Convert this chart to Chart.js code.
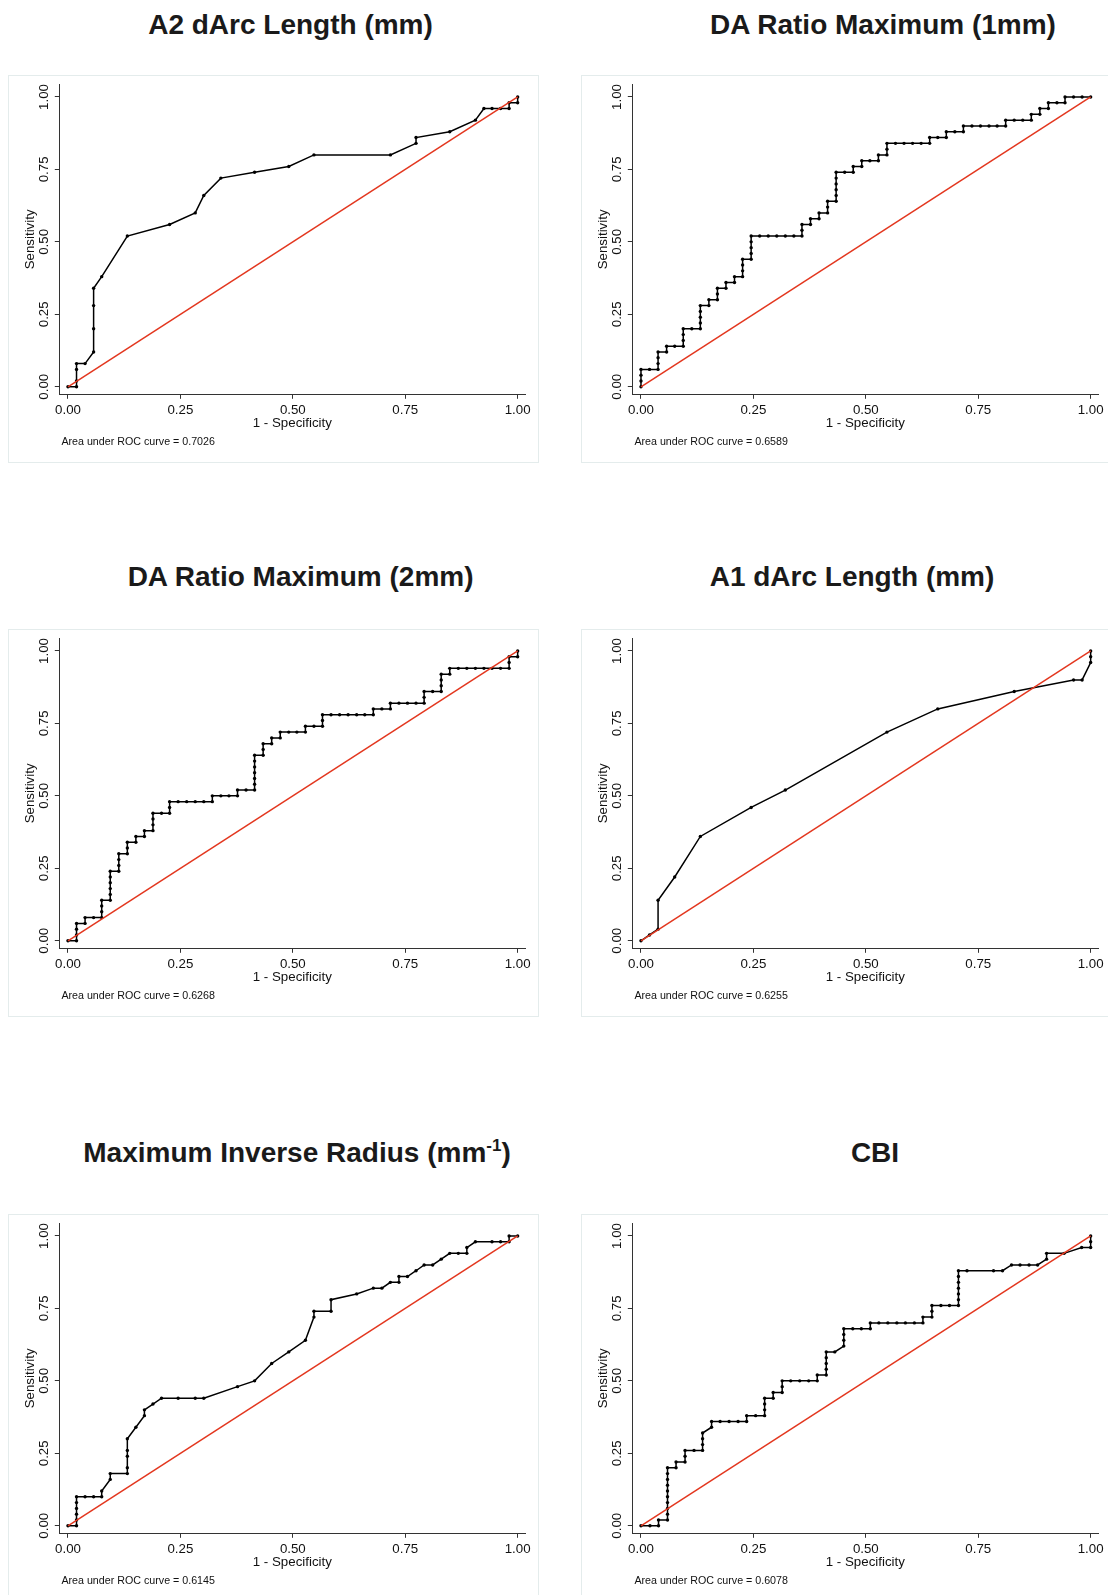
<!DOCTYPE html>
<html>
<head>
<meta charset="utf-8">
<script src="https://cdn.jsdelivr.net/npm/chart.js@4.4.1/dist/chart.umd.min.js"></script>
<style>
  body { margin: 0; background: #fff; width: 1108px; height: 1595px; overflow: hidden; position: relative;
         font-family: "Liberation Sans", Arial, Helvetica, sans-serif; }
  .box { position: absolute; width: 531px; height: 388px; border: 1px solid #e4ecec; box-sizing: border-box; }
  canvas { position: absolute; }
  .title { position: absolute; font-weight: bold; font-size: 28px; line-height: 28px; white-space: nowrap;
           transform: translateX(-50%); color: #1a1a1a; }
  .title sup { font-size: 17px; line-height: 0; vertical-align: 0; position: relative; top: -11px; }
</style>
</head>
<body>
<script>
const xTicks = [0, 0.25, 0.5, 0.75, 1];
const yTicks = [0, 0.25, 0.5, 0.75, 1];
const refFpr = [0, 1];
const refSens = [0, 1];

const titles = [
  "A2 dArc Length (mm)",
  "DA Ratio Maximum (1mm)",
  "DA Ratio Maximum (2mm)",
  "A1 dArc Length (mm)",
  "Maximum Inverse Radius (mm<sup>-1</sup>)",
  "CBI"
];
const aucValues = ["0.7026", "0.6589", "0.6268", "0.6255", "0.6145", "0.6078"];

// A2 dArc Length
const a2Fpr  = [0, 0.019, 0.019, 0.019, 0.019, 0.038, 0.057, 0.057, 0.057, 0.057, 0.075, 0.132, 0.226, 0.283, 0.302, 0.340,
                0.415, 0.491, 0.547, 0.717, 0.774, 0.774, 0.849, 0.906, 0.925, 0.943, 0.962, 0.981, 0.981, 1, 1];
const a2Sens = [0, 0, 0.02, 0.06, 0.08, 0.08, 0.12, 0.20, 0.28, 0.34, 0.38, 0.52, 0.56, 0.60, 0.66, 0.72,
                0.74, 0.76, 0.80, 0.80, 0.84, 0.86, 0.88, 0.92, 0.96, 0.96, 0.96, 0.96, 0.98, 0.98, 1];

// DA Ratio Maximum (1mm)
const da1Fpr  = [0, 0, 0, 0, 0.019, 0.038, 0.038, 0.038, 0.038, 0.057, 0.057, 0.075, 0.094, 0.094, 0.094, 0.094,
                 0.113, 0.132, 0.132, 0.132, 0.132, 0.132, 0.151, 0.151, 0.170, 0.170, 0.170, 0.189, 0.189, 0.208, 0.208,
                 0.226, 0.226, 0.226, 0.226, 0.245, 0.245, 0.245, 0.245, 0.245, 0.264, 0.283, 0.302, 0.321, 0.340, 0.358,
                 0.358, 0.358, 0.377, 0.377, 0.396, 0.396, 0.415, 0.415, 0.415, 0.434, 0.434, 0.434, 0.434, 0.434, 0.434,
                 0.453, 0.472, 0.472, 0.491, 0.491, 0.509, 0.528, 0.528, 0.547, 0.547, 0.547, 0.566, 0.585, 0.604, 0.623,
                 0.642, 0.642, 0.660, 0.679, 0.679, 0.698, 0.717, 0.717, 0.736, 0.755, 0.774, 0.792, 0.811, 0.811, 0.830,
                 0.849, 0.868, 0.868, 0.887, 0.887, 0.906, 0.906, 0.925, 0.943, 0.943, 0.962, 0.981, 1];
const da1Sens = [0, 0.02, 0.04, 0.06, 0.06, 0.06, 0.08, 0.10, 0.12, 0.12, 0.14, 0.14, 0.14, 0.16, 0.18, 0.20,
                 0.20, 0.20, 0.22, 0.24, 0.26, 0.28, 0.28, 0.30, 0.30, 0.32, 0.34, 0.34, 0.36, 0.36, 0.38,
                 0.38, 0.40, 0.42, 0.44, 0.44, 0.46, 0.48, 0.50, 0.52, 0.52, 0.52, 0.52, 0.52, 0.52, 0.52,
                 0.54, 0.56, 0.56, 0.58, 0.58, 0.60, 0.60, 0.62, 0.64, 0.64, 0.66, 0.68, 0.70, 0.72, 0.74,
                 0.74, 0.74, 0.76, 0.76, 0.78, 0.78, 0.78, 0.80, 0.80, 0.82, 0.84, 0.84, 0.84, 0.84, 0.84,
                 0.84, 0.86, 0.86, 0.86, 0.88, 0.88, 0.88, 0.90, 0.90, 0.90, 0.90, 0.90, 0.90, 0.92, 0.92,
                 0.92, 0.92, 0.94, 0.94, 0.96, 0.96, 0.98, 0.98, 0.98, 1, 1, 1, 1];

// DA Ratio Maximum (2mm)
const da2Fpr  = [0, 0.019, 0.019, 0.019, 0.019, 0.038, 0.038, 0.057, 0.075, 0.075, 0.075, 0.075, 0.094, 0.094, 0.094, 0.094,
                 0.094, 0.094, 0.113, 0.113, 0.113, 0.113, 0.132, 0.132, 0.132, 0.151, 0.151, 0.170, 0.170, 0.189, 0.189,
                 0.189, 0.189, 0.208, 0.226, 0.226, 0.226, 0.245, 0.264, 0.283, 0.302, 0.321, 0.321, 0.340, 0.358, 0.377,
                 0.377, 0.396, 0.415, 0.415, 0.415, 0.415, 0.415, 0.415, 0.415, 0.434, 0.434, 0.434, 0.453, 0.453, 0.472,
                 0.472, 0.491, 0.509, 0.528, 0.528, 0.547, 0.566, 0.566, 0.566, 0.585, 0.604, 0.623, 0.642, 0.660, 0.679,
                 0.679, 0.698, 0.717, 0.717, 0.736, 0.755, 0.774, 0.792, 0.792, 0.792, 0.811, 0.830, 0.830, 0.830, 0.830,
                 0.849, 0.849, 0.868, 0.887, 0.906, 0.925, 0.943, 0.962, 0.981, 0.981, 0.981, 1, 1];
const da2Sens = [0, 0, 0.02, 0.04, 0.06, 0.06, 0.08, 0.08, 0.08, 0.10, 0.12, 0.14, 0.14, 0.16, 0.18, 0.20,
                 0.22, 0.24, 0.24, 0.26, 0.28, 0.30, 0.30, 0.32, 0.34, 0.34, 0.36, 0.36, 0.38, 0.38, 0.40,
                 0.42, 0.44, 0.44, 0.44, 0.46, 0.48, 0.48, 0.48, 0.48, 0.48, 0.48, 0.50, 0.50, 0.50, 0.50,
                 0.52, 0.52, 0.52, 0.54, 0.56, 0.58, 0.60, 0.62, 0.64, 0.64, 0.66, 0.68, 0.68, 0.70, 0.70,
                 0.72, 0.72, 0.72, 0.72, 0.74, 0.74, 0.74, 0.76, 0.78, 0.78, 0.78, 0.78, 0.78, 0.78, 0.78,
                 0.80, 0.80, 0.80, 0.82, 0.82, 0.82, 0.82, 0.82, 0.84, 0.86, 0.86, 0.86, 0.88, 0.90, 0.92,
                 0.92, 0.94, 0.94, 0.94, 0.94, 0.94, 0.94, 0.94, 0.94, 0.96, 0.98, 0.98, 1];

// A1 dArc Length
const a1Fpr  = [0, 0.019, 0.038, 0.038, 0.075, 0.132, 0.245, 0.321, 0.547, 0.660, 0.830, 0.962, 0.981, 1, 1, 1];
const a1Sens = [0, 0.02, 0.04, 0.14, 0.22, 0.36, 0.46, 0.52, 0.72, 0.80, 0.86, 0.90, 0.90, 0.96, 0.98, 1];

// Maximum Inverse Radius
const mirFpr  = [0, 0.019, 0.019, 0.019, 0.019, 0.019, 0.019, 0.038, 0.057, 0.075, 0.075, 0.094, 0.094, 0.132, 0.132,
                 0.132, 0.132, 0.132, 0.151, 0.170, 0.170, 0.189, 0.208, 0.245, 0.283, 0.302, 0.377, 0.415, 0.453,
                 0.491, 0.528, 0.547, 0.547, 0.585, 0.585, 0.642, 0.679, 0.698, 0.717, 0.736, 0.736, 0.755, 0.774,
                 0.792, 0.811, 0.830, 0.849, 0.868, 0.887, 0.887, 0.906, 0.943, 0.962, 0.981, 0.981, 1];
const mirSens = [0, 0, 0.02, 0.04, 0.06, 0.08, 0.10, 0.10, 0.10, 0.10, 0.12, 0.16, 0.18, 0.18, 0.20,
                 0.24, 0.26, 0.30, 0.34, 0.38, 0.40, 0.42, 0.44, 0.44, 0.44, 0.44, 0.48, 0.50, 0.56,
                 0.60, 0.64, 0.72, 0.74, 0.74, 0.78, 0.80, 0.82, 0.82, 0.84, 0.84, 0.86, 0.86, 0.88,
                 0.90, 0.90, 0.92, 0.94, 0.94, 0.94, 0.96, 0.98, 0.98, 0.98, 0.98, 1, 1];

// CBI
const cbiFpr  = [0, 0.020, 0.039, 0.039, 0.059, 0.059, 0.059, 0.059, 0.059, 0.059, 0.059, 0.059, 0.059, 0.059,
                 0.078, 0.078, 0.098, 0.098, 0.098, 0.118, 0.137, 0.137, 0.137, 0.137, 0.157, 0.157, 0.176, 0.196,
                 0.216, 0.235, 0.235, 0.255, 0.275, 0.275, 0.275, 0.275, 0.294, 0.294, 0.314, 0.314, 0.314, 0.333,
                 0.353, 0.373, 0.392, 0.392, 0.412, 0.412, 0.412, 0.412, 0.412, 0.431, 0.451, 0.451, 0.451, 0.451,
                 0.471, 0.490, 0.510, 0.510, 0.529, 0.549, 0.569, 0.588, 0.608, 0.627, 0.627, 0.647, 0.647, 0.647,
                 0.667, 0.686, 0.706, 0.706, 0.706, 0.706, 0.706, 0.706, 0.706, 0.725, 0.784, 0.804, 0.824, 0.843,
                 0.863, 0.882, 0.902, 0.902, 0.941, 0.980, 1, 1, 1];
const cbiSens = [0, 0, 0, 0.02, 0.02, 0.04, 0.06, 0.08, 0.10, 0.12, 0.14, 0.16, 0.18, 0.20,
                 0.20, 0.22, 0.22, 0.24, 0.26, 0.26, 0.26, 0.28, 0.30, 0.32, 0.34, 0.36, 0.36, 0.36,
                 0.36, 0.36, 0.38, 0.38, 0.38, 0.40, 0.42, 0.44, 0.44, 0.46, 0.46, 0.48, 0.50, 0.50,
                 0.50, 0.50, 0.50, 0.52, 0.52, 0.54, 0.56, 0.58, 0.60, 0.60, 0.62, 0.64, 0.66, 0.68,
                 0.68, 0.68, 0.68, 0.70, 0.70, 0.70, 0.70, 0.70, 0.70, 0.70, 0.72, 0.72, 0.74, 0.76,
                 0.76, 0.76, 0.76, 0.78, 0.80, 0.82, 0.84, 0.86, 0.88, 0.88, 0.88, 0.88, 0.90, 0.90,
                 0.90, 0.90, 0.92, 0.94, 0.94, 0.96, 0.96, 0.98, 1];

const curves = [
  [a2Fpr, a2Sens], [da1Fpr, da1Sens], [da2Fpr, da2Sens],
  [a1Fpr, a1Sens], [mirFpr, mirSens], [cbiFpr, cbiSens]
];

const FONT = '"Liberation Sans", Arial, Helvetica, sans-serif';
const AXIS = "#333";
const RED = "#e3371f";
const COL_X = [8, 580.7];
const ROW_Y = [75, 629, 1213.5];
const TITLE_X = [290.5, 883, 300.6, 852, 297, 875];
const TITLE_Y = [25, 577, 1153];
const W = 531, H = 388;

const toPoints = (xs, ys) => xs.map((x, i) => ({ x, y: ys[i] }));

const extras = {
  id: "extras",
  afterDraw(chart, args, opts) {
    const { ctx } = chart;
    const xs = chart.scales.x, ys = chart.scales.y;
    ctx.save();
    ctx.fillStyle = "#111";
    ctx.font = "13.3px " + FONT;
    ctx.textAlign = "center";
    ctx.textBaseline = "middle";
    yTicks.forEach(v => {
      ctx.save();
      ctx.translate(ys.right - 14.5, ys.getPixelForValue(v));
      ctx.rotate(-Math.PI / 2);
      ctx.fillText(v.toFixed(2), 0, 0);
      ctx.restore();
    });
    ctx.font = "10.7px " + FONT;
    ctx.textAlign = "left";
    ctx.fillText("Area under ROC curve = " + opts.auc, xs.getPixelForValue(0) - 6.6, ys.getPixelForValue(0) + 54.8);
    ctx.restore();
  }
};

function axisGrid() {
  return { drawOnChartArea: false, drawTicks: true, tickLength: 4.5, color: AXIS, lineWidth: 1 };
}

function makePanel(i) {
  const col = i % 2, row = Math.floor(i / 2);
  const left = COL_X[col], top = ROW_Y[row];

  const box = document.createElement("div");
  box.className = "box";
  box.style.left = left + "px";
  box.style.top = top + "px";
  document.body.appendChild(box);

  const t = document.createElement("div");
  t.className = "title";
  t.innerHTML = titles[i];
  t.style.left = TITLE_X[i] + "px";
  t.style.top = (TITLE_Y[row] - 13.6) + "px";
  document.body.appendChild(t);

  const cv = document.createElement("canvas");
  cv.width = W;
  cv.height = H;
  cv.style.left = left + "px";
  cv.style.top = top + "px";
  document.body.appendChild(cv);

  const [fpr, sens] = curves[i];
  new Chart(cv, {
    type: "scatter",
    data: {
      datasets: [
        { data: toPoints(refFpr, refSens), showLine: true, borderColor: RED, borderWidth: 1.5, pointRadius: 0 },
        { data: toPoints(fpr, sens), showLine: true, borderColor: "#000", backgroundColor: "#000",
          borderWidth: 1.5, pointRadius: 1.7, pointBorderWidth: 0 }
      ]
    },
    options: {
      responsive: false,
      animation: false,
      devicePixelRatio: 1,
      events: [],
      layout: { padding: { left: 0, right: 13.7, top: 9.5, bottom: 28.7 } },
      plugins: { legend: { display: false }, tooltip: { enabled: false }, extras: { auc: aucValues[i] } },
      scales: {
        x: {
          type: "linear", min: -0.0193, max: 1.017,
          afterBuildTicks: s => { s.ticks = xTicks.map(v => ({ value: v })); },
          afterFit: s => { s.height = 40; },
          ticks: { autoSkip: false, maxRotation: 0, padding: 3.6, color: "#111",
                   font: { size: 13.3, family: FONT }, callback: v => v.toFixed(2) },
          grid: axisGrid(),
          border: { display: true, color: AXIS, width: 1 },
          title: { display: true, text: "1 - Specificity", color: "#111",
                   font: { size: 13.3, family: FONT }, padding: { top: 0, bottom: 2.6 } }
        },
        y: {
          type: "linear", min: -0.026, max: 1.043,
          afterBuildTicks: s => { s.ticks = yTicks.map(v => ({ value: v })); },
          afterFit: s => { s.width = 51.3; },
          ticks: { display: false },
          grid: axisGrid(),
          border: { display: true, color: AXIS, width: 1 },
          title: { display: true, text: "Sensitivity", color: "#111",
                   font: { size: 13.3, family: FONT }, padding: { top: 14, bottom: 0 } }
        }
      }
    },
    plugins: [extras]
  });
}

document.addEventListener("DOMContentLoaded", () => {
  for (let i = 0; i < 6; i++) makePanel(i);
});
</script>
</body>
</html>
